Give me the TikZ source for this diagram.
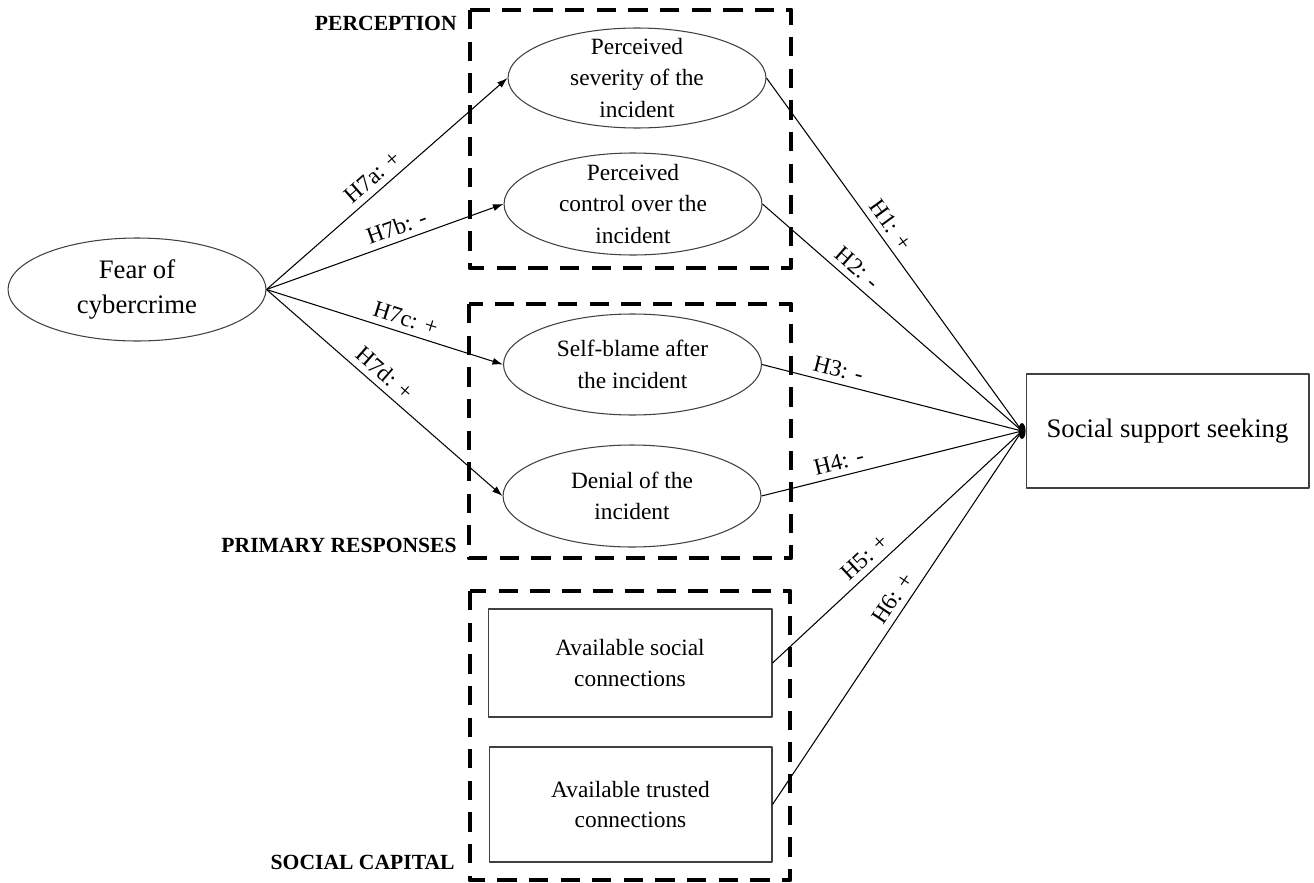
\documentclass[tikz,border=0pt]{standalone}
\usepackage{fontspec}
\setmainfont{Liberation Serif}
\usetikzlibrary{arrows.meta,shapes.geometric}

\begin{document}
\begin{tikzpicture}[x=0.02cm,y=-0.02cm,>={Latex[length=6pt,width=4pt]},line join=round,
  oval/.style={ellipse,draw=black!75,line width=0.6pt,minimum width=5.16cm,minimum height=2.02cm,inner xsep=0pt,inner ysep=-8pt,align=center,font=\fontsize{13.3}{18}\selectfont},
  sqbox/.style={rectangle,draw=black!75,line width=0.6pt,align=center,font=\fontsize{13.3}{17.6}\selectfont},
  groupbox/.style={line width=2.8pt,dash pattern=on 11pt off 7pt},
  grouplabel/.style={anchor=east,inner sep=0pt,font=\bfseries\fontsize{12.3}{14}\selectfont},
  link/.style={line width=0.6pt},
  hyp/.style={sloped,above=1.5pt,inner sep=2pt,font=\fontsize{13.3}{15}\selectfont}]
  \useasboundingbox (0,0) rectangle (1314,882);

  \draw[groupbox] (470,10) rectangle (791,268);
  \draw[groupbox] (469,304) rectangle (791,558);
  \draw[groupbox] (470,591) rectangle (790,880);
  \node[grouplabel] (perclab) at (457,23) {PERCEPTION};
  \node[grouplabel] (resplab) at (457,545) {PRIMARY RESPONSES};
  \node[grouplabel] (caplab) at (455,862) {SOCIAL CAPITAL};

  \node[oval,minimum height=2.06cm,font=\fontsize{15.2}{20}\selectfont] (fear) at (137,289.5) {Fear of\\cybercrime};
  \node[oval,minimum height=2cm] (sev) at (637,78) {Perceived\\severity of the\\incident};
  \node[oval,minimum height=2.04cm] (ctrl) at (633,204) {Perceived\\control over the\\incident};
  \node[oval] (blame) at (632.5,364.5) {Self-blame after\\the incident};
  \node[oval,minimum height=2.04cm] (denial) at (632,496) {Denial of the\\incident};
  \node[sqbox,minimum width=5.68cm,minimum height=2.16cm] (conn) at (630,663) {Available social\\connections};
  \node[sqbox,minimum width=5.66cm,minimum height=2.3cm] (trust) at (630.5,804.5) {Available trusted\\connections};
  \node[sqbox,minimum width=5.66cm,minimum height=2.28cm,font=\fontsize{15.2}{18}\selectfont] (seek) at (1167.5,431) {Social support seeking};
  \coordinate (hub) at (1022,431);

  \draw[link,->] (fear.east) -- node[hyp,pos=0.48] (h7a) {H7a: +} (sev.west);
  \draw[link,->] (fear.east) -- node[hyp,pos=0.57] (h7b) {H7b: -} (ctrl.west);
  \draw[link,->] (fear.east) -- node[hyp,pos=0.57] (h7c) {H7c: +} (blame.west);
  \draw[link,->] (fear.east) -- node[hyp,pos=0.46] (h7d) {H7d: +} (denial.west);

  \draw[link] (sev.east) -- node[hyp,pos=0.44] (h1) {H1: +} (hub);
  \draw[link] (ctrl.east) -- node[hyp,pos=0.33] (h2) {H2: -} (hub);
  \draw[link] (blame.east) -- node[hyp,pos=0.28] (h3) {H3: -} (hub);
  \draw[link] (denial.east) -- node[hyp,pos=0.31] (h4) {H4: -} (hub);
  \draw[link] (conn.east) -- node[hyp,pos=0.41] (h5) {H5: +} (hub);
  \draw[link] (trust.east) -- node[hyp,pos=0.53] (h6) {H6: +} (hub);
  \fill (hub) ellipse (2pt and 4.5pt);
\end{tikzpicture}
\end{document}
